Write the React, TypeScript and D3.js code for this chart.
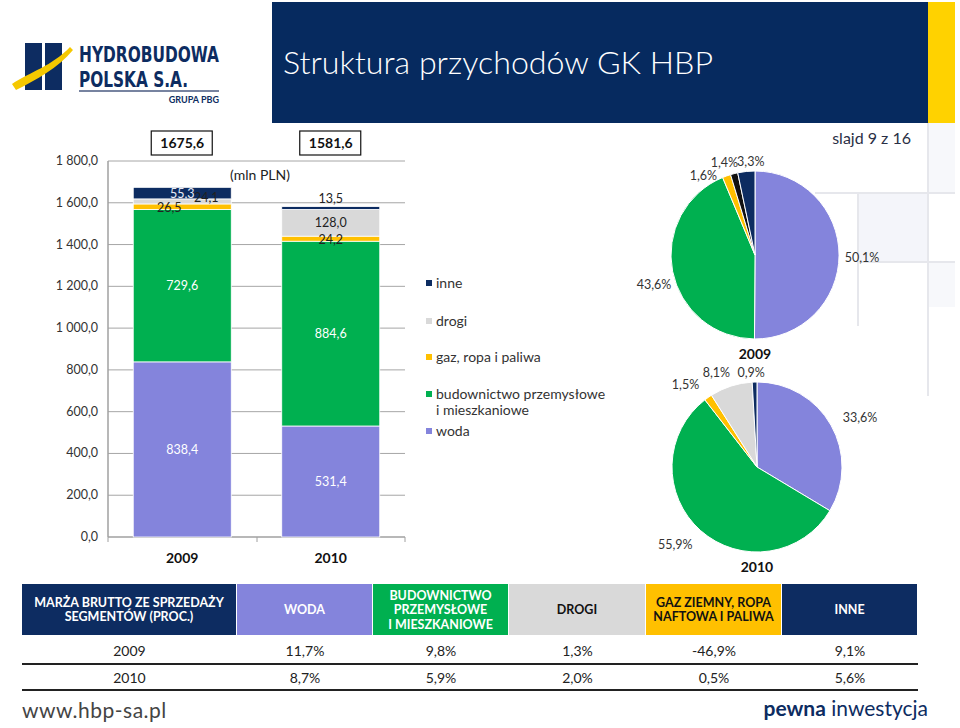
import React from "react";
import * as d3 from "d3";

// ---------- DATA ----------
const categories = ["2009", "2010"];
const segmentNames = ["woda", "budownictwo", "gaz", "drogi", "inne"];
const woda = [838.4, 531.4];
const budownictwo = [729.6, 884.6];
const gaz = [26.5, 24.2];
const drogi = [24.1, 128.0];
const inne = [55.3, 13.5];
const totals = [1675.6, 1581.6];
const yTicks = [0, 200, 400, 600, 800, 1000, 1200, 1400, 1600, 1800];

const legendItems = ["inne", "drogi", "gaz, ropa i paliwa", "budownictwo przemysłowe|i mieszkaniowe", "woda"];
const legendKeys = ["inne", "drogi", "gaz", "budownictwo", "woda"];

const pie2009 = [50.1, 43.6, 1.6, 1.4, 3.3];
const pie2010 = [33.6, 55.9, 1.5, 8.1, 0.9];

const tableHeaders = [
  "MARŻA BRUTTO ZE SPRZEDAŻY|SEGMENTÓW (PROC.)",
  "WODA",
  "BUDOWNICTWO|PRZEMYSŁOWE|I MIESZKANIOWE",
  "DROGI",
  "GAZ ZIEMNY, ROPA|NAFTOWA I PALIWA",
  "INNE",
];
const margin2009 = ["11,7%", "9,8%", "1,3%", "-46,9%", "9,1%"];
const margin2010 = ["8,7%", "5,9%", "2,0%", "0,5%", "5,6%"];

// ---------- STYLE ----------
const FONT = "Lato, 'Open Sans', sans-serif";
const NAVY = "#0d2c61";
const colors: Record<string, string> = {
  woda: "#8484dc",
  budownictwo: "#00b050",
  gaz: "#ffc000",
  drogi: "#d9d9d9",
  inne: "#0d2c61",
};
const pieColors2009 = ["#8484dc", "#00b050", "#ffc000", "#111111", "#0d2c61"];
const pieColors2010 = ["#8484dc", "#00b050", "#ffc000", "#d9d9d9", "#0d2c61"];

const plFormat = d3.formatLocale({
  decimal: ",",
  thousands: "\u00a0",
  grouping: [3],
  currency: ["", " zł"],
});
const fmtTick = plFormat.format(",.1f");
const fmtVal = plFormat.format(".1f");

function PieBlock({ values, cols, cx, cy, r, year, yearY, offsets }: any) {
  const arcs = d3.pie<number>().sort(null).value((d) => d)(values);
  const arcGen = d3.arc<any>().innerRadius(0).outerRadius(r);
  return (
    <g>
      {arcs.map((a, i) => (
        <path key={i} d={arcGen(a) as string} transform={`translate(${cx},${cy})`} fill={cols[i]} stroke="#fff" strokeWidth={1} />
      ))}
      {arcs.map((a, i) => {
        const mid = (a.startAngle + a.endAngle) / 2;
        const R = values[i] > 20 ? r + 23 : r + 15;
        const x = cx + R * Math.sin(mid) + offsets[i][0];
        const y = cy - R * Math.cos(mid) + offsets[i][1];
        return (
          <text key={"l" + i} x={x} y={y + 4} textAnchor="middle" fontSize={12.5} fill="#333" fontFamily={FONT}>
            {fmtVal(values[i])}%
          </text>
        );
      })}
      <text x={cx} y={yearY} textAnchor="middle" fontSize={14} fontWeight="bold" fill="#111" fontFamily={FONT}>
        {year}
      </text>
    </g>
  );
}

export default function App() {
  const x = d3.scaleBand<string>().domain(categories).range([108, 405]).paddingInner(0.34).paddingOuter(0.17);
  const y = d3.scaleLinear().domain([0, 1800]).range([537, 161]);

  const table = categories.map((c, i) => ({
    cat: c,
    woda: woda[i],
    budownictwo: budownictwo[i],
    gaz: gaz[i],
    drogi: drogi[i],
    inne: inne[i],
  }));
  const stack = d3.stack<any>().keys(segmentNames)(table);

  // label tweaks per [series][category]: [dx, dy, color]
  const labelTweaks: any = {
    woda: [[0, 0, "#fff"], [0, 0, "#fff"]],
    budownictwo: [[0, 0, "#fff"], [0, 0, "#fff"]],
    gaz: [[-13, 1, "#222"], [0, 1, "#222"]],
    drogi: [[24, -4, "#222"], [0, 0, "#222"]],
    inne: [[0, 0, "#e8ecf8"], [0, -10, "#222"]],
  };

  const colEdges = [22, 237, 373, 509, 646, 782, 918];
  const headerFill = [NAVY, colors.woda, colors.budownictwo, colors.drogi, colors.gaz, NAVY];
  const headerText = ["#fff", "#fff", "#fff", "#111", "#111", "#fff"];

  return (
    <svg width={960} height={728} style={{ position: "absolute", left: 0, top: 0, background: "#fff" }} fontFamily={FONT}>
      <rect x={0} y={0} width={960} height={728} fill="#fff" />

      {/* background decoration */}
      <rect x={858} y={193} width={70} height={69} fill="#f4f5fa" />
      <rect x={928} y={123} width={27} height={70} fill="#f7f8fb" />
      <rect x={928} y={262} width={27} height={45} fill="#f7f8fb" />
      <line x1={928} x2={928} y1={123} y2={396} stroke="#e6e7ec" strokeWidth={2} />
      <line x1={858} x2={858} y1={193} y2={326} stroke="#e6e7ec" strokeWidth={2} />
      <line x1={815} x2={955} y1={193} y2={193} stroke="#e6e7ec" strokeWidth={2} />
      <line x1={858} x2={955} y1={262} y2={262} stroke="#e6e7ec" strokeWidth={2} />

      {/* header */}
      <rect x={272} y={2} width={656} height={121} fill="#062a5f" />
      <rect x={928} y={2} width={27} height={121} fill="#ffd200" />
      <text x={283} y={74} fill="#fff" fontSize={31} fontWeight={300} textLength={430} lengthAdjust="spacingAndGlyphs">
        Struktura przychodów GK HBP
      </text>

      {/* logo */}
      <rect x={25} y={43} width={17} height={47} fill="#0d2c61" />
      <rect x={45} y={43} width={17} height={47} fill="#0d2c61" />
      <path d="M12,84 C30,72 52,66 70,47 L73,50 C58,68 36,80 16,90 Z" fill="#f5c800" />
      <text x={79} y={62} fontSize={22} fontWeight="bold" fill="#0d2c61" fontFamily="'Liberation Sans Narrow', 'DejaVu Sans Condensed', sans-serif" textLength={140} lengthAdjust="spacingAndGlyphs">
        HYDROBUDOWA
      </text>
      <text x={79} y={87} fontSize={22} fontWeight="bold" fill="#0d2c61" fontFamily="'Liberation Sans Narrow', 'DejaVu Sans Condensed', sans-serif" textLength={109} lengthAdjust="spacingAndGlyphs">
        POLSKA S.A.
      </text>
      <line x1={79} x2={219} y1={91} y2={91} stroke="#4a5a80" strokeWidth={1.5} />
      <text x={219} y={103} fontSize={9} fontWeight="bold" fill="#0d2c61" textAnchor="end">
        GRUPA PBG
      </text>

      <text x={911} y={144} fontSize={16} fill="#2a2f45" textAnchor="end">
        slajd 9 z 16
      </text>

      {/* bar chart grid & axes */}
      {yTicks.map((t) => (
        <g key={t}>
          {t > 0 && <line x1={108} x2={405} y1={y(t)} y2={y(t)} stroke="#a6a6a6" strokeWidth={1} />}
          <text x={98} y={y(t) + 4} textAnchor="end" fontSize={12.5} fill="#333">
            {fmtTick(t)}
          </text>
        </g>
      ))}
      <line x1={108} x2={108} y1={161} y2={537} stroke="#a0a0a0" strokeWidth={1.5} />
      <line x1={108} x2={405} y1={537} y2={537} stroke="#a0a0a0" strokeWidth={1.5} />
      {[108, 257, 405].map((tx) => (
        <line key={tx} x1={tx} x2={tx} y1={537} y2={542} stroke="#a0a0a0" strokeWidth={1} />
      ))}

      {stack.map((s) => (
        <g key={s.key}>
          {s.map((d, i) => (
            <rect
              key={i}
              x={x(categories[i])}
              width={x.bandwidth()}
              y={y(d[1])}
              height={y(d[0]) - y(d[1])}
              fill={colors[s.key]}
              stroke="#fff"
              strokeWidth={0.8}
            />
          ))}
        </g>
      ))}
      {stack.map((s) =>
        s.map((d, i) => {
          const tw = labelTweaks[s.key][i];
          const cx = (x(categories[i]) as number) + x.bandwidth() / 2 + tw[0];
          const cy = (y(d[0]) + y(d[1])) / 2 + tw[1];
          return (
            <text key={s.key + i} x={cx} y={cy + 4.5} textAnchor="middle" fontSize={12.5} fill={tw[2]}>
              {fmtVal(d[1] - d[0])}
            </text>
          );
        })
      )}
      {categories.map((c, i) => {
        const cx = (x(c) as number) + x.bandwidth() / 2;
        return (
          <g key={c}>
            <rect x={cx - 31} y={131} width={61} height={24} fill="#fff" stroke="#111" strokeWidth={1.2} />
            <text x={cx} y={148} textAnchor="middle" fontSize={14} fontWeight="bold" fill="#111">
              {fmtVal(totals[i])}
            </text>
            <text x={cx} y={563} textAnchor="middle" fontSize={14} fontWeight="bold" fill="#111">
              {c}
            </text>
          </g>
        );
      })}
      <text x={260} y={180} textAnchor="middle" fontSize={14} fill="#222">
        (mln PLN)
      </text>

      {/* legend */}
      {legendItems.map((item, i) => {
        const ys = [283, 321, 357, 394, 431];
        const lines = item.split("|");
        return (
          <g key={item}>
            <rect x={426} y={ys[i] - 3} width={6} height={6} fill={colors[legendKeys[i]]} />
            {lines.map((ln, j) => (
              <text key={j} x={436} y={ys[i] + 5 + j * 16} fontSize={14} fill="#333">
                {ln}
              </text>
            ))}
          </g>
        );
      })}

      {/* pies */}
      <PieBlock
        values={pie2009}
        cols={pieColors2009}
        cx={755}
        cy={255}
        r={84}
        year="2009"
        yearY={359}
        offsets={[[0, 3], [4, 9], [-18, 14], [-6, 4], [6, 5]]}
      />
      <PieBlock
        values={pie2010}
        cols={pieColors2010}
        cx={757}
        cy={467}
        r={85}
        year="2010"
        yearY={572}
        offsets={[[9, 4], [-10, -3], [-14, 0], [-10, 1], [-3, 6]]}
      />

      {/* table */}
      {tableHeaders.map((h, i) => {
        const x0 = colEdges[i];
        const w = colEdges[i + 1] - x0 - 1;
        const lines = h.split("|");
        const cx = x0 + w / 2;
        const lh = 14.5;
        const startY = 610 - ((lines.length - 1) * lh) / 2 + 4;
        return (
          <g key={h}>
            <rect x={x0} y={584} width={w} height={51} fill={headerFill[i]} />
            {lines.map((ln, j) => (
              <text key={j} x={cx} y={startY + j * lh} textAnchor="middle" fontSize={12.5} fontWeight="bold" fill={headerText[i]}>
                {ln}
              </text>
            ))}
          </g>
        );
      })}
      {[margin2009, margin2010].map((row, r) => {
        const ry = r === 0 ? 656 : 683;
        const cy = colEdges[0] + (colEdges[1] - colEdges[0]) / 2;
        return (
          <g key={r}>
            <text x={cy} y={ry} textAnchor="middle" fontSize={14} fill="#222">
              {categories[r]}
            </text>
            {row.map((v, i) => (
              <text key={i} x={(colEdges[i + 1] + colEdges[i + 2]) / 2} y={ry} textAnchor="middle" fontSize={14} fill="#222">
                {v}
              </text>
            ))}
            <line x1={22} x2={918} y1={r === 0 ? 664 : 690} y2={r === 0 ? 664 : 690} stroke="#222" strokeWidth={2} />
          </g>
        );
      })}

      {/* footer */}
      <text x={22} y={718} fontSize={21} fill="#444" letterSpacing={0.5}>
        www.hbp-sa.pl
      </text>
      <text x={928} y={716} fontSize={21} fill={NAVY} textAnchor="end">
        <tspan fontWeight="bold">pewna</tspan>
        <tspan> inwestycja</tspan>
      </text>
    </svg>
  );
}
